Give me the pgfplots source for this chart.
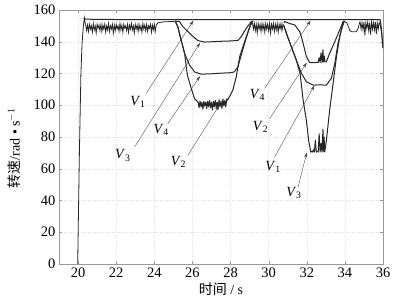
\documentclass[border=0pt]{standalone}
\usepackage{pgfplots}
\pgfplotsset{compat=1.18}
\usepackage{fontspec}
\setmainfont{Liberation Serif}
\newfontfamily\cjk{Noto Sans CJK SC}
\usetikzlibrary{arrows.meta}
\tikzset{curve/.style={black!85, line width=1pt, line join=round, mark=none},
         band/.style={black!85, line width=0.8pt, line join=miter, mark=none}}
\begin{document}
\begin{tikzpicture}
\begin{axis}[
  width=324pt, height=254pt, scale only axis,
  xmin=19, xmax=36, ymin=0, ymax=160,
  xtick={20,22,...,36}, ytick={0,20,...,160},
  /pgf/number format/assume math mode=true,
  tick label style={font=\fontsize{14.5}{14.5}\selectfont},
  grid=major, grid style={dotted, gray!25},
  axis line style={gray!80}, tick style={gray!80},
  major tick length=3pt,
  xlabel={{\cjk 时间} / s},
  ylabel={{\cjk 转速}/rad • s$^{-1}$},
  label style={font=\fontsize{14}{14}\selectfont},
  ylabel style={yshift=6pt, xshift=-11pt},
  xlabel style={yshift=1pt},
]
% common rise and first band
\addplot[band] coordinates {
(19.98,0) (20.07,70) (20.15,120) (20.21,139) (20.28,150) (20.33,155) (20.37,152)
(20.40,151) (20.45,147) (20.50,150.5) (20.55,146.5) (20.60,151) (20.65,148) (20.70,150) (20.75,146) (20.80,151.5) (20.85,147.5)
(20.90,150) (20.95,145.5) (21.00,151) (21.05,148.5) (21.10,150.5) (21.15,147) (21.20,151) (21.25,146.5) (21.30,150.5) (21.35,148)
(21.40,151) (21.45,146) (21.50,150) (21.55,147.5) (21.60,151.5) (21.65,146.5) (21.70,150) (21.75,148) (21.80,151) (21.85,145.5)
(21.90,150.5) (21.95,147) (22.00,151) (22.05,148) (22.10,150) (22.15,146.5) (22.20,151.5) (22.25,147.5) (22.30,150.5) (22.35,146)
(22.40,151) (22.45,148.5) (22.50,150) (22.55,147) (22.60,151) (22.65,146) (22.70,150.5) (22.75,148) (22.80,151.5) (22.85,147.5)
(22.90,150) (22.95,145.5) (23.00,151) (23.05,148) (23.10,150.5) (23.15,146.5) (23.20,151) (23.25,147.5) (23.30,150) (23.35,146)
(23.40,151.5) (23.45,148) (23.50,150.5) (23.55,147) (23.60,151) (23.65,146.5) (23.70,150) (23.75,148.5) (23.80,151) (23.85,146)
(23.90,150.5) (23.95,147.5) (24.00,151) (24.05,146.5) (24.10,150.5)
(24.2,152) (24.5,152.5) (25.0,152.8) (25.1,153)
};
% top line
\addplot[curve] coordinates {
(20.30,155) (20.40,154.2) (22,154) (25,154) (28,154) (31,154) (34,154) (35.85,154) (35.92,148) (36.0,136)
};
% first dip: 141 curve
\addplot[curve] coordinates {
(25.1,153) (25.32,152.7) (25.5,149.5) (25.67,147.5) (25.94,144.3) (26.29,140.7) (26.64,139.8) (27.0,140) (27.5,140.3) (28.0,140.5) (28.39,140.8) (28.56,143.2) (28.7,146) (28.83,148.5) (29.09,152.7) (29.2,153)
};
% first dip: 120 curve
\addplot[curve] coordinates {
(25.1,153) (25.23,149.6) (25.41,141) (25.59,132.7) (25.85,125.3) (26.11,121) (26.46,119.6) (27,119.8) (27.5,120.2) (28.0,120.5) (28.2,121) (28.39,124.2) (28.56,131.6) (28.74,139) (28.95,147.5) (29.13,152.7)
};
% first dip: 100 curve
\addplot[curve] coordinates {
(25.1,153) (25.23,149.6) (25.41,141) (25.59,132.7) (25.7,122) (25.76,117.9) (25.94,110.6) (26.11,104.2) (26.29,102)
(26.30,102) (26.35,98.5) (26.40,102.5) (26.45,99) (26.50,102) (26.55,97.5) (26.60,102.5) (26.65,99.5) (26.70,102) (26.75,98)
(26.80,102.5) (26.85,99) (26.90,103) (26.95,98.5) (27.00,102) (27.05,97) (27.10,102.5) (27.15,99) (27.20,103) (27.25,98.5)
(27.30,102) (27.35,97.5) (27.40,103.5) (27.45,99) (27.50,102.5) (27.55,98) (27.60,104) (27.65,99.5) (27.70,103) (27.75,99)
(27.80,104) (27.85,103.2)
(28.12,109.5) (28.3,117.9) (28.48,130.6) (28.65,136.9) (28.83,143.2) (29.09,151.7) (29.15,152)
};
% second band
\addplot[band] coordinates {
(29.15,152) (29.20,148) (29.25,151.5) (29.30,147) (29.35,151) (29.40,145.5) (29.45,151.5) (29.50,148) (29.55,151) (29.60,146.5)
(29.65,151.5) (29.70,147.5) (29.75,151) (29.80,146) (29.85,151.5) (29.90,148) (29.95,151) (30.00,147) (30.05,151.5) (30.10,145.5)
(30.15,151) (30.20,148) (30.25,151.5) (30.30,146.5) (30.35,151) (30.40,147.5) (30.45,151.5) (30.50,146) (30.55,151) (30.60,148)
(30.65,151.5) (30.70,147) (30.75,151) (30.80,150)
};
% second dip: 127 curve
\addplot[curve] coordinates {
(30.8,152) (30.84,152.7) (31.1,151.5) (31.37,150.6) (31.5,148.5) (31.63,146.4) (31.72,143) (31.81,139) (31.9,134.5) (31.98,130.6) (32.16,126.8)
(32.3,126.8) (32.5,127) (32.6,127) (32.65,130) (32.7,127) (32.75,133) (32.8,127) (32.85,135) (32.88,127.2) (32.92,131) (32.96,127.3) (33.03,127.4)
(33.2,132.7) (33.47,140) (33.73,147.5) (33.91,152.7) (34.0,153)
};
% second dip: 112 curve
\addplot[curve] coordinates {
(30.8,150) (31.0,143) (31.19,136.9) (31.45,128.5) (31.72,120.1) (31.98,114.8) (32.33,112.7) (32.7,112.8) (33.03,112.7) (33.29,116.9) (33.47,126.4) (33.64,139) (33.82,147.5) (33.96,152.7)
};
% second dip: 70 curve
\addplot[curve] coordinates {
(30.8,150) (31.0,143) (31.19,136.9) (31.45,128.5) (31.65,120) (31.81,103.2) (31.98,90.5) (32.1,77.8) (32.21,70.5)
(32.25,71) (32.30,70.5) (32.35,72) (32.40,70.5) (32.45,78) (32.50,70.5) (32.55,71) (32.60,70.5) (32.65,82) (32.70,70.5)
(32.75,76) (32.80,70.5) (32.85,85) (32.88,71) (32.91,80) (32.94,70.5)
(33.03,77.8) (33.2,96.8) (33.38,113.7) (33.56,130.6) (33.73,143.2) (33.91,152.7)
};
% small dip and last band
\addplot[band] coordinates {
(33.91,153) (34.1,152) (34.2,149) (34.26,147) (34.35,146.3) (34.6,146.3) (34.7,148.5) (34.78,152.5)
(34.80,152.5) (34.85,148) (34.90,152) (34.95,147.5) (35.00,152.5) (35.05,144) (35.10,152) (35.15,148.5) (35.20,152.5) (35.25,147)
(35.30,152) (35.35,144.5) (35.40,152.5) (35.45,148) (35.50,152) (35.55,147.5) (35.60,152.5) (35.65,145) (35.70,152) (35.75,148)
(35.80,152) (35.85,151) (35.92,146) (36.0,136)
};
% annotations
\begin{scope}[black!75, line width=0.35pt]
\draw[-{Stealth[length=5pt,width=3pt]}] (axis cs:23.57,107.4) -- (axis cs:26.05,153.3);
\draw[-{Stealth[length=5pt,width=3pt]}] (axis cs:24.71,88.4) -- (axis cs:26.4,118.3);
\draw[-{Stealth[length=5pt,width=3pt]}] (axis cs:22.96,73.6) -- (axis cs:26.4,139.3);
\draw[-{Stealth[length=5pt,width=3pt]}] (axis cs:25.76,68.4) -- (axis cs:27.4,99.8);
\draw[-{Stealth[length=5pt,width=3pt]}] (axis cs:29.79,110.6) -- (axis cs:32.2,153.3);
\draw[-{Stealth[length=5pt,width=3pt]}] (axis cs:30.05,91.6) -- (axis cs:32.0,126.8);
\draw[-{Stealth[length=5pt,width=3pt]}] (axis cs:30.31,67.3) -- (axis cs:32.4,112.4);
\draw[-{Stealth[length=5pt,width=3pt]}] (axis cs:31.54,48.3) -- (axis cs:32.0,70.2);
\end{scope}
\begin{scope}[every node/.style={font=\fontsize{14}{14}\selectfont, inner sep=1pt}]
\node at (axis cs:23.14,102.1) {\textit{V}\textsubscript{1}};
\node at (axis cs:24.36,84.2) {\textit{V}\textsubscript{4}};
\node at (axis cs:22.35,68.4) {\textit{V}\textsubscript{3}};
\node at (axis cs:25.27,64.1) {\textit{V}\textsubscript{2}};
\node at (axis cs:29.41,106.3) {\textit{V}\textsubscript{4}};
\node at (axis cs:29.58,86.3) {\textit{V}\textsubscript{2}};
\node at (axis cs:30.23,60.9) {\textit{V}\textsubscript{1}};
\node at (axis cs:31.33,44.5) {\textit{V}\textsubscript{3}};
\end{scope}
\end{axis}
\pgfresetboundingbox
\path[use as bounding box] (current axis.south west) ++(-59pt,-40pt) rectangle ([xshift=16pt,yshift=10pt]current axis.north east);
\end{tikzpicture}
\end{document}
